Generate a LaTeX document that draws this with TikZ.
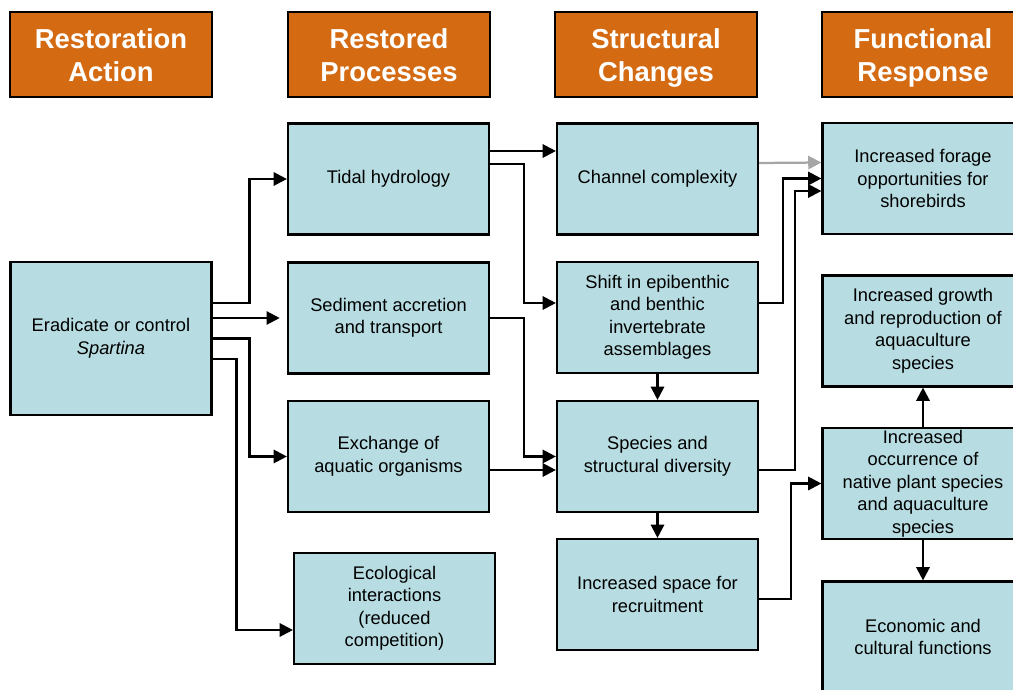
\documentclass[tikz,border=0pt]{standalone}
\usepackage{fontspec}
\setmainfont{Liberation Sans}
\usepackage{tikz}
\usetikzlibrary{shapes,arrows.meta,positioning,calc}
\definecolor{HeadOrange}{RGB}{212,106,18}
\definecolor{BoxBlue}{RGB}{183,221,226}
\newcommand{\topstrut}{\rule{0pt}{1.0em}}
\newcommand{\botstrut}{\rule[-0.21em]{0pt}{0pt}}

\begin{document}
\begin{tikzpicture}[x=0.025cm, y=-0.025cm]
			\tikzstyle{Head}	= [rectangle, draw, line width=1.9pt, fill=HeadOrange, text=white, font=\fontsize{19.5}{23.5}\selectfont\bfseries, align=center, minimum width=5.05cm, minimum height=2.125cm, inner sep=0pt]
			\tikzstyle{Box}		= [rectangle, draw, line width=1.5pt, fill=BoxBlue, font=\fontsize{13}{16}\selectfont, align=center, minimum width=5.025cm, minimum height=2.775cm, inner sep=0pt]
			\tikzstyle{Tall}	= [minimum height=3.825cm]
			\tikzstyle{Flow}	= [line width=1.6pt, -{Triangle[length=0.33cm, width=0.33cm]}]
			\tikzstyle{Faint}	= [gray!70]

			\clip (0,0) rectangle (1013,690);

			\node (hAction) at (111, 54.5) [Head] {\topstrut Restoration\\Action\botstrut};
			\node (hProc) at (389, 54.5) [Head] {\topstrut Restored\\Processes\botstrut};
			\node (hStruct) at (656, 54.5) [Head] {\topstrut Structural\\Changes\botstrut};
			\node (hFunc) at (923, 54.5) [Head] {\topstrut Functional\\Response\botstrut};

			\node (erad) at (111, 338.5) [Box][Tall] {Eradicate or control\\\textit{Spartina}};
			\node (tidal) at (388.5, 179) [Box] {Tidal hydrology};
			\node (sed) at (388.5, 318) [Box] {Sediment accretion\\and transport};
			\node (exch) at (388.5, 456.5) [Box] {Exchange of\\aquatic organisms};
			\node (eco) at (394.5, 608.5) [Box] {Ecological\\interactions\\(reduced\\competition)};
			\node (chan) at (657.5, 179) [Box] {Channel complexity};
			\node (inverts) at (657.5, 317.5) [Box] {Shift in epibenthic\\and benthic\\invertebrate\\assemblages};
			\node (spec) at (657.5, 456.5) [Box] {Species and\\structural diversity};
			\node (recruit) at (657.5, 594.5) [Box] {Increased space for\\recruitment};
			\node (forage) at (923, 178.5) [Box] {Increased forage\\opportunities for\\shorebirds};
			\node (growth) at (923, 331) [Box] {Increased growth\\and reproduction of\\aquaculture\\species};
			\node (occur) at (923, 483.5) [Box] {Increased\\occurrence of\\native plant species\\and aquaculture\\species};
			\node (econ) at (923, 637) [Box] {Economic and\\cultural functions};

			\draw [Flow] ($(erad.east)+(0,-35.5)$) -- ++(37,0) |- (tidal.west);
			\draw [Flow, shorten >=0.18cm] (erad.east |- sed.west) -- (sed.west);
			\draw [Flow] (erad.east) -- ++(37,0) |- (exch.west);
			\draw [Flow] ($(erad.east)+(0,20.5)$) -- ++(24,0) |- ($(eco.west)+(0,21.5)$);
			\draw [Flow] ($(tidal.east)+(0,-28)$) -- ($(chan.west)+(0,-28)$);
			\draw [Flow] ($(tidal.east)+(0,-15)$) -- ++(34,0) |- ($(inverts.west)+(0,-14.5)$);
			\draw [Flow] (sed.east) -- ++(34,0) |- (spec.west);
			\draw [Flow] ($(exch.east)+(0,13.5)$) -- ($(spec.west)+(0,13.5)$);
			\draw [Flow, Faint] ($(chan.east)+(0,-16)$) -- ($(forage.west)+(0,-16)$);
			\draw [Flow] ($(inverts.east)+(0,-14.5)$) -- ++(24,0) |- (forage.west);
			\draw [Flow] ($(spec.east)+(0,13.5)$) -- ++(36,0) |- ($(forage.west)+(0,12.5)$);
			\draw [Flow] ($(recruit.east)+(0,4.5)$) -- ++(32,0) |- (occur.west);
			\draw [Flow] (inverts) -- (spec);
			\draw [Flow] (spec) -- (recruit);
			\draw [Flow] (occur) -- (growth);
			\draw [Flow] (occur) -- (econ);
		\end{tikzpicture}
\end{document}
